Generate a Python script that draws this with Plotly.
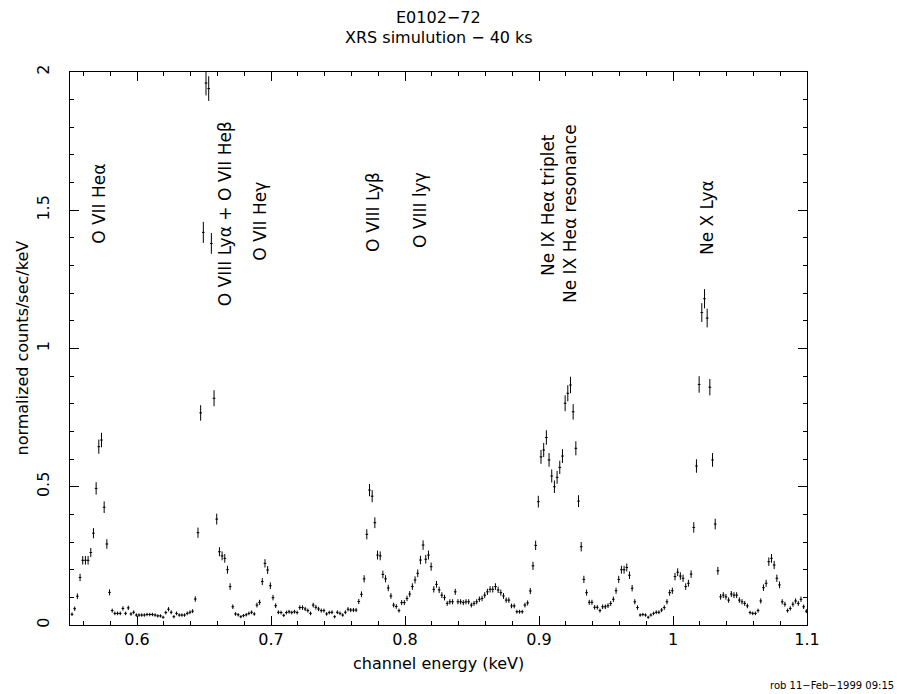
import plotly.graph_objects as go

# channel energies (keV), bin centres (0.002 keV bins)
energy = [
    0.5515, 0.5535, 0.5555, 0.5575, 0.5595, 0.5615, 0.5635, 0.5655, 0.5675, 0.5695,
    0.5715, 0.5735, 0.5755, 0.5775, 0.5795, 0.5815, 0.5835, 0.5855, 0.5875, 0.5895,
    0.5915, 0.5935, 0.5955, 0.5975, 0.5995, 0.6015, 0.6035, 0.6055, 0.6075, 0.6095,
    0.6115, 0.6135, 0.6155, 0.6175, 0.6195, 0.6215, 0.6235, 0.6255, 0.6275, 0.6295,
    0.6315, 0.6335, 0.6355, 0.6375, 0.6395, 0.6415, 0.6435, 0.6455, 0.6475, 0.6495,
    0.6515, 0.6535, 0.6555, 0.6575, 0.6595, 0.6615, 0.6635, 0.6655, 0.6675, 0.6695,
    0.6715, 0.6735, 0.6755, 0.6775, 0.6795, 0.6815, 0.6835, 0.6855, 0.6875, 0.6895,
    0.6915, 0.6935, 0.6955, 0.6975, 0.6995, 0.7015, 0.7035, 0.7055, 0.7075, 0.7095,
    0.7115, 0.7135, 0.7155, 0.7175, 0.7195, 0.7215, 0.7235, 0.7255, 0.7275, 0.7295,
    0.7315, 0.7335, 0.7355, 0.7375, 0.7395, 0.7415, 0.7435, 0.7455, 0.7475, 0.7495,
    0.7515, 0.7535, 0.7555, 0.7575, 0.7595, 0.7615, 0.7635, 0.7655, 0.7675, 0.7695,
    0.7715, 0.7735, 0.7755, 0.7775, 0.7795, 0.7815, 0.7835, 0.7855, 0.7875, 0.7895,
    0.7915, 0.7935, 0.7955, 0.7975, 0.7995, 0.8015, 0.8035, 0.8055, 0.8075, 0.8095,
    0.8115, 0.8135, 0.8155, 0.8175, 0.8195, 0.8215, 0.8235, 0.8255, 0.8275, 0.8295,
    0.8315, 0.8335, 0.8355, 0.8375, 0.8395, 0.8415, 0.8435, 0.8455, 0.8475, 0.8495,
    0.8515, 0.8535, 0.8555, 0.8575, 0.8595, 0.8615, 0.8635, 0.8655, 0.8675, 0.8695,
    0.8715, 0.8735, 0.8755, 0.8775, 0.8795, 0.8815, 0.8835, 0.8855, 0.8875, 0.8895,
    0.8915, 0.8935, 0.8955, 0.8975, 0.8995, 0.9015, 0.9035, 0.9055, 0.9075, 0.9095,
    0.9115, 0.9135, 0.9155, 0.9175, 0.9195, 0.9215, 0.9235, 0.9255, 0.9275, 0.9295,
    0.9315, 0.9335, 0.9355, 0.9375, 0.9395, 0.9415, 0.9435, 0.9455, 0.9475, 0.9495,
    0.9515, 0.9535, 0.9555, 0.9575, 0.9595, 0.9615, 0.9635, 0.9655, 0.9675, 0.9695,
    0.9715, 0.9735, 0.9755, 0.9775, 0.9795, 0.9815, 0.9835, 0.9855, 0.9875, 0.9895,
    0.9915, 0.9935, 0.9955, 0.9975, 0.9995, 1.0015, 1.0035, 1.0055, 1.0075, 1.0095,
    1.0115, 1.0135, 1.0155, 1.0175, 1.0195, 1.0215, 1.0235, 1.0255, 1.0275, 1.0295,
    1.0315, 1.0335, 1.0355, 1.0375, 1.0395, 1.0415, 1.0435, 1.0455, 1.0475, 1.0495,
    1.0515, 1.0535, 1.0555, 1.0575, 1.0595, 1.0615, 1.0635, 1.0655, 1.0675, 1.0695,
    1.0715, 1.0735, 1.0755, 1.0775, 1.0795, 1.0815, 1.0835, 1.0855, 1.0875, 1.0895,
    1.0915, 1.0935, 1.0955, 1.0975, 1.0995,
]

# normalized counts/sec/keV
counts = [
    0.039, 0.059, 0.104, 0.172, 0.234, 0.234, 0.234, 0.262, 0.332, 0.494,
    0.645, 0.669, 0.426, 0.293, 0.118, 0.052, 0.042, 0.042, 0.042, 0.060,
    0.042, 0.062, 0.040, 0.046, 0.036, 0.036, 0.036, 0.036, 0.038, 0.038,
    0.038, 0.036, 0.033, 0.033, 0.028, 0.045, 0.057, 0.046, 0.030, 0.042,
    0.036, 0.036, 0.036, 0.042, 0.046, 0.050, 0.094, 0.334, 0.767, 1.420,
    1.960, 1.940, 1.380, 0.820, 0.383, 0.265, 0.250, 0.241, 0.200, 0.139,
    0.066, 0.040, 0.037, 0.030, 0.034, 0.037, 0.042, 0.046, 0.040, 0.072,
    0.082, 0.157, 0.223, 0.199, 0.142, 0.099, 0.070, 0.046, 0.045, 0.035,
    0.045, 0.048, 0.045, 0.048, 0.045, 0.063, 0.063, 0.058, 0.052, 0.042,
    0.072, 0.064, 0.058, 0.052, 0.052, 0.040, 0.045, 0.046, 0.030, 0.046,
    0.042, 0.036, 0.046, 0.057, 0.054, 0.054, 0.054, 0.085, 0.111, 0.167,
    0.328, 0.488, 0.466, 0.370, 0.253, 0.250, 0.183, 0.167, 0.134, 0.105,
    0.072, 0.067, 0.052, 0.081, 0.081, 0.096, 0.112, 0.139, 0.163, 0.187,
    0.235, 0.289, 0.238, 0.253, 0.211, 0.129, 0.147, 0.127, 0.108, 0.099,
    0.078, 0.084, 0.084, 0.120, 0.084, 0.084, 0.081, 0.084, 0.084, 0.072,
    0.078, 0.084, 0.093, 0.096, 0.108, 0.120, 0.129, 0.129, 0.139, 0.127,
    0.117, 0.105, 0.090, 0.090, 0.069, 0.069, 0.048, 0.048, 0.048, 0.072,
    0.080, 0.123, 0.214, 0.288, 0.446, 0.608, 0.633, 0.678, 0.597, 0.539,
    0.500, 0.534, 0.570, 0.611, 0.802, 0.838, 0.868, 0.771, 0.639, 0.448,
    0.283, 0.165, 0.117, 0.082, 0.082, 0.064, 0.064, 0.052, 0.066, 0.066,
    0.070, 0.078, 0.093, 0.124, 0.165, 0.200, 0.200, 0.208, 0.180, 0.133,
    0.084, 0.063, 0.036, 0.038, 0.036, 0.028, 0.036, 0.042, 0.046, 0.046,
    0.054, 0.063, 0.084, 0.117, 0.124, 0.175, 0.191, 0.177, 0.169, 0.139,
    0.151, 0.184, 0.353, 0.575, 0.870, 1.130, 1.180, 1.110, 0.860, 0.597,
    0.365, 0.196, 0.102, 0.108, 0.102, 0.090, 0.112, 0.108, 0.108, 0.090,
    0.084, 0.078, 0.069, 0.045, 0.042, 0.042, 0.052, 0.087, 0.135, 0.151,
    0.229, 0.241, 0.217, 0.169, 0.145, 0.084, 0.075, 0.052, 0.060, 0.075,
    0.087, 0.078, 0.093, 0.066, 0.050,
]

bin_half_width = 0.001  # keV
# Poisson-like 1-sigma errors scale with sqrt of the rate
errors = [0.032 * v ** 0.5 for v in counts]

x_tick_vals = [0.6, 0.7, 0.8, 0.9, 1.0, 1.1]
x_tick_text = ["0.6", "0.7", "0.8", "0.9", "1", "1.1"]
y_tick_vals = [0, 0.5, 1, 1.5, 2]
y_tick_text = ["0", "0.5", "1", "1.5", "2"]

line_labels = [
    "O VII Heα",
    "O VIII Lyα + O VII Heβ",
    "O VII Heγ",
    "O VIII Lyβ",
    "O VIII lyγ",
    "Ne IX Heα triplet",
    "Ne IX Heα resonance",
    "Ne X Lyα",
]
label_x = [0.5716, 0.6657, 0.6918, 0.7761, 0.8112, 0.9067, 0.9231, 1.0254]
label_y = [1.523, 1.486, 1.458, 1.494, 1.501, 1.519, 1.490, 1.472]

FONT = "DejaVu Sans"

# page has an 8px body margin: the figure is shifted by (8, 8)
OFF = 8
W, H = 902 - OFF, 694 - OFF
PL, PR, PT, PB = 70, 807, 72, 625   # plot-area edges in window pixels


def px(xp):
    return (xp - PL) / (PR - PL)


def py(yp):
    return (PB - yp) / (PB - PT)


fig = go.Figure()
fig.add_trace(go.Scatter(
    x=energy, y=counts, mode="markers",
    marker=dict(size=1, color="black"),
    error_x=dict(type="constant", value=bin_half_width, width=0, thickness=1, color="black"),
    error_y=dict(type="data", array=errors, width=0, thickness=1, color="black"),
    showlegend=False, hoverinfo="x+y",
))

annotations = []
for t, lx, ly in zip(line_labels, label_x, label_y):
    annotations.append(dict(
        x=lx, y=ly, xref="x", yref="y", text=t, showarrow=False, textangle=-90,
        font=dict(family=FONT, size=17, color="black"), xanchor="center", yanchor="middle",
    ))

annotations += [
    dict(text="E0102−72", x=0.5, y=py(18), xref="paper", yref="paper",
         showarrow=False, font=dict(family=FONT, size=16, color="black"), xanchor="center", yanchor="middle"),
    dict(text="XRS simulution − 40 ks", x=0.5, y=py(38), xref="paper", yref="paper",
         showarrow=False, font=dict(family=FONT, size=16, color="black"), xanchor="center", yanchor="middle"),
    dict(text="channel energy (keV)", x=0.5, y=py(663), xref="paper", yref="paper",
         showarrow=False, font=dict(family=FONT, size=16, color="black"), xanchor="center", yanchor="middle"),
    dict(text="normalized counts/sec/keV", x=px(22), y=0.5, xref="paper", yref="paper",
         showarrow=False, textangle=-90, font=dict(family=FONT, size=16, color="black"),
         xanchor="center", yanchor="middle"),
    dict(text="rob 11−Feb−1999 09:15", x=px(896), y=py(685), xref="paper", yref="paper",
         showarrow=False, font=dict(family=FONT, size=10, color="black"), xanchor="right", yanchor="middle"),
]

axis_common = dict(
    showline=True, linecolor="black", linewidth=1, mirror="allticks",
    ticks="inside", ticklen=9, tickwidth=1, tickcolor="black",
    showgrid=False, zeroline=False,
    tickfont=dict(family=FONT, size=16, color="black"),
)

fig.update_layout(
    width=W, height=H,
    margin=dict(l=PL - OFF, r=W - (PR - OFF), t=PT - OFF, b=H - (PB - OFF)),
    paper_bgcolor="white", plot_bgcolor="white",
    xaxis=dict(range=[0.55, 1.1], tickmode="array", tickvals=x_tick_vals, ticktext=x_tick_text,
               minor=dict(dtick=0.02, tick0=0.56, ticks="inside", ticklen=4, tickcolor="black", showgrid=False),
               **axis_common),
    yaxis=dict(range=[0, 2], tickmode="array", tickvals=y_tick_vals, ticktext=y_tick_text, tickangle=-90,
               ticklabelstandoff=14,
               minor=dict(dtick=0.1, tick0=0, ticks="inside", ticklen=4, tickcolor="black", showgrid=False),
               **axis_common),
    annotations=annotations,
)

fig.write_html("out.html")
